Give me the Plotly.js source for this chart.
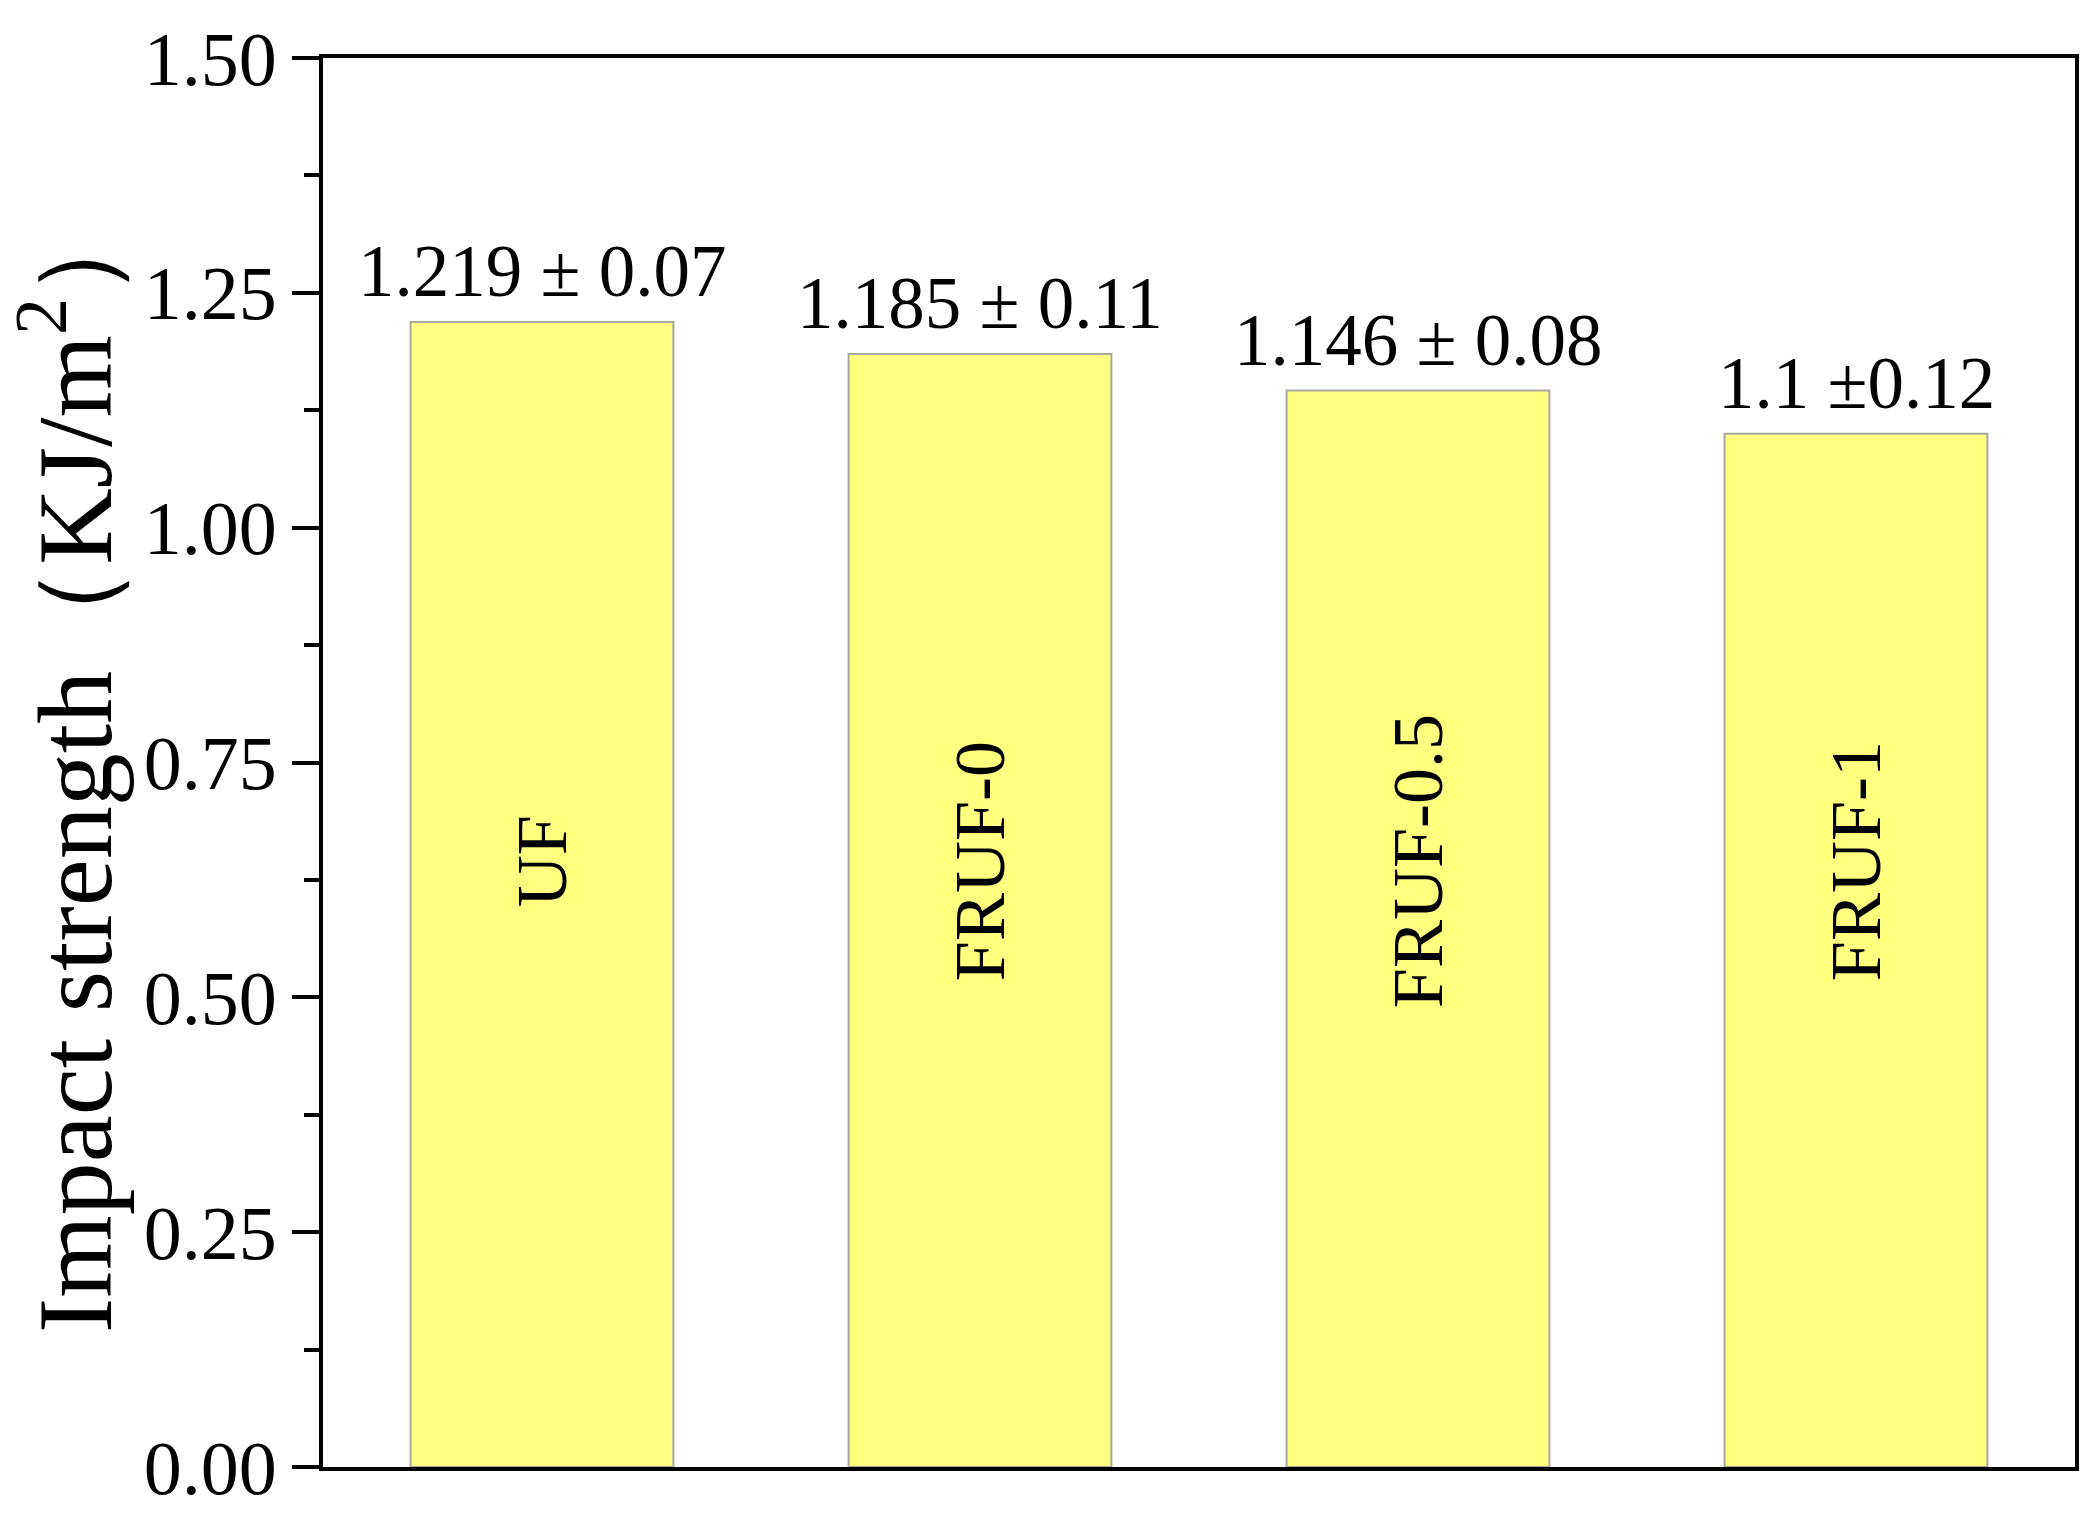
<!DOCTYPE html>
<html>
<head>
<meta charset="utf-8">
<script src="https://cdn.plot.ly/plotly-3.0.1.min.js"></script>
<style>
  html, body { margin: 0; padding: 0; background: #fff; }
  #chart { width: 2097px; height: 1514px; }
</style>
</head>
<body>
<div id="chart"></div>
<script>
// samples and measured impact strength
const samples = ['UF', 'FRUF-0', 'FRUF-0.5', 'FRUF-1'];
const strength = [1.219, 1.185, 1.146, 1.1];
const valueLabels = ['1.219 ± 0.07', '1.185 ± 0.11', '1.146 ± 0.08', '1.1 ±0.12'];
const yTicks = [0, 0.25, 0.5, 0.75, 1.0, 1.25, 1.5];

const serif = '"Liberation Serif", "Times New Roman", serif';
const nameLevel = 0.645; // where the rotated sample names sit

const trace = {
    x: samples,
    y: strength,
    type: 'bar',
    width: 0.6,
    marker: { color: '#FFFF80', line: { color: '#a8a8a0', width: 2 } },
    hoverinfo: 'skip'
};

// value ± sd above each bar
const annotations = samples.map(function (s, i) {
    return {
        x: s, y: strength[i], xref: 'x', yref: 'y',
        text: valueLabels[i], showarrow: false,
        yanchor: 'bottom', yshift: 8,
        font: { family: serif, size: 73, color: '#000' }
    };
});
// sample names inside the bars
samples.forEach(function (s) {
    annotations.push({
        x: s, y: nameLevel, xref: 'x', yref: 'y',
        text: s, showarrow: false, textangle: -90,
        font: { family: serif, size: 72, color: '#000' }
    });
});

const layout = {
    width: 2097,
    height: 1514,
    margin: { l: 323, r: 22, t: 58, b: 47 },
    paper_bgcolor: '#fff',
    plot_bgcolor: '#fff',
    showlegend: false,
    font: { family: serif, color: '#000' },
    xaxis: {
        type: 'category',
        range: [-0.5, 3.5],
        showline: true, linecolor: '#000', linewidth: 4, mirror: true,
        ticks: '', showticklabels: false, showgrid: false, zeroline: false
    },
    yaxis: {
        range: [0, 1.5],
        tickvals: yTicks,
        tickformat: '.2f',
        ticklabeloverflow: 'allow',
        tickfont: { family: serif, size: 76, color: '#000' },
        ticks: 'outside', ticklen: 27, tickwidth: 4, tickcolor: '#000',
        minor: { dtick: 0.125, ticks: 'outside', ticklen: 15, tickwidth: 4, tickcolor: '#000', showgrid: false },
        showline: true, linecolor: '#000', linewidth: 4, mirror: true,
        showgrid: false, zeroline: false,
        title: {
            text: 'Impact strength（KJ/m<sup>2</sup>）',
            font: { family: serif, size: 106, color: '#000' },
            standoff: 16
        }
    },
    annotations: annotations
};

Plotly.newPlot('chart', [trace], layout, { staticPlot: true });
</script>
</body>
</html>
